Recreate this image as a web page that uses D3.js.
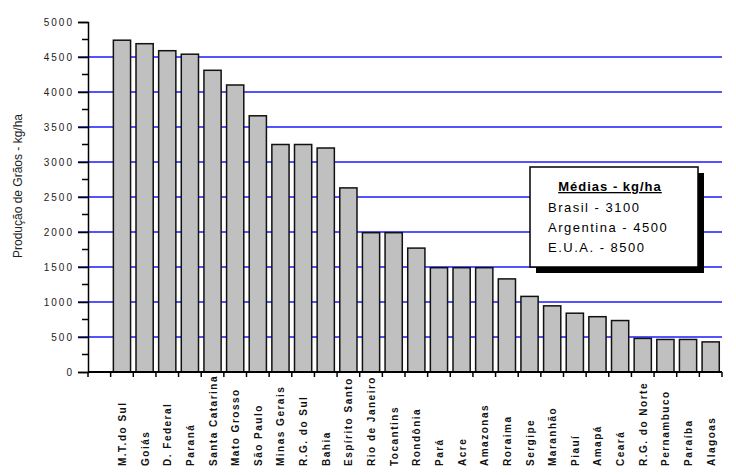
<!DOCTYPE html>
<html>
<head>
<meta charset="utf-8">
<script src="https://cdn.jsdelivr.net/npm/d3@7"></script>
<style>
body{margin:0;background:#fff;}
text{font-family:"Liberation Sans",Arial,sans-serif;}
</style>
</head>
<body>
<div id="chart"></div>
<script>
var states = ["M.T.do Sul", "Goiás", "D. Federal", "Paraná", "Santa Catarina", "Mato Grosso",
    "São Paulo", "Minas Gerais", "R.G. do Sul", "Bahia", "Espírito Santo", "Rio de Janeiro",
    "Tocantins", "Rondônia", "Pará", "Acre", "Amazonas", "Roraima", "Sergipe", "Maranhão",
    "Piauí", "Amapá", "Ceará", "R.G. do Norte", "Pernambuco", "Paraíba", "Alagoas"];
var yields = [4740, 4690, 4590, 4540, 4310, 4100, 3660, 3250, 3250, 3200, 2630, 1990,
    1990, 1770, 1490, 1490, 1490, 1330, 1080, 945, 840, 790, 735, 480, 465, 465, 430];
var yTicks = [0, 500, 1000, 1500, 2000, 2500, 3000, 3500, 4000, 4500, 5000];
var gridTicks = [500, 1000, 1500, 2000, 2500, 3000, 3500, 4000, 4500];
var legendTitle = "Médias - kg/ha";
var legendRows = ["Brasil - 3100", "Argentina - 4500", "E.U.A. - 8500"];

window.svgW = 736;
window.svgH = 475;

var svg = d3.select("#chart")
    .append("svg")
    .attr("width", window.svgW)
    .attr("height", window.svgH);

// window.top is reserved, so plot edges get their own names
var plotL = 88, plotR = 722, plotT = 22, plotB = 372;

//first slot on the axis stays empty
var x = d3.scaleBand()
    .domain([""].concat(states))
    .range([plotL, plotR])
    .paddingInner(0.24)
    .paddingOuter(0.12);

var y = d3.scaleLinear()
    .domain([0, 5000])
    .range([plotB, plotT]);

//blue grid lines
svg.selectAll("line.grid")
    .data(gridTicks)
    .enter()
    .append("line")
    .attr("class", "grid")
    .attr("x1", plotL - 10)
    .attr("x2", plotR)
    .attr("y1", function(d){ return y(d); })
    .attr("y2", function(d){ return y(d); })
    .attr("stroke", "#1a1aff")
    .attr("stroke-width", 1.5);

//bars
svg.selectAll("rect.bar")
    .data(yields)
    .enter()
    .append("rect")
    .attr("class", "bar")
    .attr("x", function(d, i){ return x(states[i]); })
    .attr("width", x.bandwidth())
    .attr("y", function(d){ return y(d); })
    .attr("height", function(d){ return plotB - y(d); })
    .attr("fill", "#c0c0c0")
    .attr("stroke", "#111")
    .attr("stroke-width", 1.5);

//y axis
var yAxis = d3.axisLeft(y)
    .tickValues(yTicks)
    .tickSize(10)
    .tickPadding(4)
    .tickFormat(function(d){ return d; });

var yg = svg.append("g")
    .attr("transform", "translate(" + plotL + ",0)")
    .call(yAxis);
yg.select(".domain").attr("stroke", "#000").attr("stroke-width", 1.5);
yg.selectAll(".tick line").attr("stroke", "#000").attr("stroke-width", 1.5);
yg.selectAll(".tick text")
    .attr("font-size", 10)
    .attr("letter-spacing", "2px")
    .attr("fill", "#222");

//minor ticks
var minor = d3.range(250, 5000, 500);
yg.selectAll("line.minor")
    .data(minor)
    .enter()
    .append("line")
    .attr("x1", -6)
    .attr("x2", 0)
    .attr("y1", function(d){ return y(d); })
    .attr("y2", function(d){ return y(d); })
    .attr("stroke", "#000")
    .attr("stroke-width", 1.5);

//x axis
var xg = svg.append("g")
    .attr("transform", "translate(0," + plotB + ")");
xg.append("line")
    .attr("x1", plotL)
    .attr("x2", plotR)
    .attr("stroke", "#000")
    .attr("stroke-width", 2);

var step = x.step();
var boundaries = d3.range(0, states.length + 2).map(function(i){ return plotL + i * step; });
xg.selectAll("line.tick")
    .data(boundaries)
    .enter()
    .append("line")
    .attr("x1", function(d){ return d; })
    .attr("x2", function(d){ return d; })
    .attr("y1", 0)
    .attr("y2", 5)
    .attr("stroke", "#000")
    .attr("stroke-width", 1.5);

xg.selectAll("text.label")
    .data(states)
    .enter()
    .append("text")
    .attr("class", "label")
    .attr("transform", function(d){
        return "translate(" + (x(d) + x.bandwidth() / 2 + 4) + "," + 94 + ") rotate(-90)";
    })
    .attr("font-size", 10)
    .attr("font-weight", "bold")
    .attr("letter-spacing", "1.5px")
    .attr("fill", "#111")
    .text(function(d){ return d; });

//y axis title
svg.append("text")
    .attr("transform", "translate(22,186) rotate(-90)")
    .attr("text-anchor", "middle")
    .attr("font-size", 12)
    .attr("fill", "#222")
    .text("Produção de Grãos - kg/ha");

//legend box with shadow
var lg = svg.append("g").attr("transform", "translate(530,167)");
lg.append("rect")
    .attr("x", 6).attr("y", 6)
    .attr("width", 168).attr("height", 100)
    .attr("fill", "#000");
lg.append("rect")
    .attr("width", 168).attr("height", 100)
    .attr("fill", "#fff")
    .attr("stroke", "#000")
    .attr("stroke-width", 1.5);
lg.append("text")
    .attr("x", 80).attr("y", 24)
    .attr("text-anchor", "middle")
    .attr("font-size", 13)
    .attr("font-weight", "bold")
    .attr("letter-spacing", "1px")
    .attr("text-decoration", "underline")
    .text(legendTitle);
lg.selectAll("text.row")
    .data(legendRows)
    .enter()
    .append("text")
    .attr("class", "row")
    .attr("x", 18)
    .attr("y", function(d, i){ return 45 + i * 20; })
    .attr("font-size", 13)
    .attr("letter-spacing", "1.5px")
    .text(function(d){ return d; });
</script>
</body>
</html>
